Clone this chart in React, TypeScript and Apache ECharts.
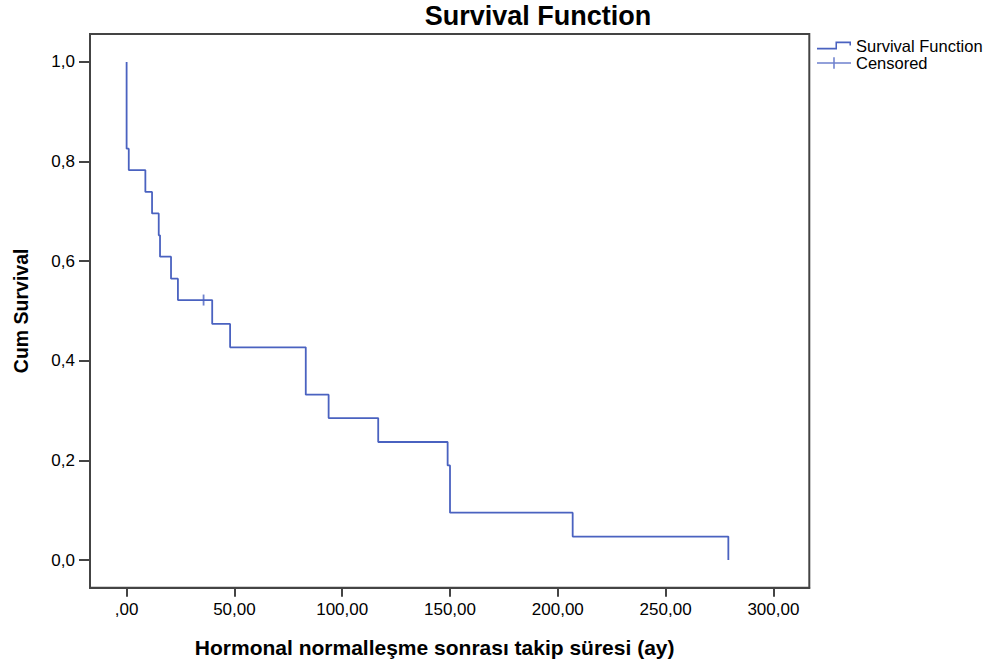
import React, { useEffect, useRef } from "react";
import * as echarts from "echarts";

// Kaplan-Meier step points: follow-up time (months) and cumulative survival
const eventTimes = [0, 0, 1.0, 8.7, 11.8, 14.9, 15.5, 20.6, 23.8, 39.7, 48.0, 83.1, 93.7, 116.7, 148.9, 150.0, 206.9, 279.1];
const survival = [1.0, 0.826, 0.783, 0.739, 0.696, 0.652, 0.609, 0.565, 0.522, 0.474, 0.427, 0.332, 0.285, 0.237, 0.19, 0.095, 0.047, 0.0];

// Censored observations
const censoredTimes = [35.7];
const censoredSurvival = [0.522];

// Axis ticks and labels
const xTicks = [0, 50, 100, 150, 200, 250, 300];
const xTickLabels = [",00", "50,00", "100,00", "150,00", "200,00", "250,00", "300,00"];
const yTicks = [0, 0.2, 0.4, 0.6, 0.8, 1.0];
const yTickLabels = ["0,0", "0,2", "0,4", "0,6", "0,8", "1,0"];

const xRange = [-16.98, 316.65];
const yRange = [-0.0556, 1.0562];

const FONT = "'Liberation Sans', Arial, Helvetica, sans-serif";
const BLUE = "#4a62c0";
const FRAME = "#444444";

const stepIcon =
  "path://M0,6.4 L19,6.4 L19,0 L35,0 L35,4 L33.4,4 L33.4,1.6 L20.6,1.6 L20.6,8 L0,8 Z";
const censorIcon =
  "path://M0,5.2 L16.7,5.2 L16.7,0 L18.3,0 L18.3,5.2 L35,5.2 L35,6.8 L18.3,6.8 L18.3,12 L16.7,12 L16.7,6.8 L0,6.8 Z";

export default function App() {
  const ref = useRef<HTMLDivElement>(null);

  useEffect(() => {
    if (!ref.current) return;
    const chart = echarts.init(ref.current, null, { renderer: "svg" });
    const curve = eventTimes.map((t, i) => [t, survival[i]]);
    const censored = censoredTimes.map((t, i) => [t, censoredSurvival[i]]);

    chart.setOption({
      animation: false,
      backgroundColor: "#ffffff",
      textStyle: { fontFamily: FONT },
      title: {
        text: "Survival Function",
        left: 533,
        top: -3,
        textAlign: "center",
        textStyle: { fontFamily: FONT, fontSize: 27, fontWeight: "bold", color: "#000" },
      },
      legend: {
        orient: "vertical",
        left: 812,
        top: 32,
        itemWidth: 34,
        itemHeight: 12,
        itemGap: 0.5,
        textStyle: { fontFamily: FONT, fontSize: 16.5, color: "#000" },
        data: [
          { name: "Survival Function", icon: stepIcon },
          { name: "Censored", icon: censorIcon },
        ],
      },
      grid: {
        left: 90,
        top: 34,
        right: 192.7,
        bottom: 76.3,
        show: true,
        borderColor: FRAME,
        borderWidth: 2,
        backgroundColor: "transparent",
      },
      xAxis: {
        type: "value",
        min: xRange[0],
        max: xRange[1],
        name: "Hormonal normalleşme sonrası takip süresi (ay)",
        nameLocation: "middle",
        nameGap: 49,
        nameTextStyle: {
          fontFamily: FONT,
          fontSize: 21,
          fontWeight: "bold",
          color: "#000",
          padding: [0, 30, 0, 0],
        },
        axisLine: { show: true, onZero: false, lineStyle: { color: FRAME, width: 2 } },
        axisTick: {
          show: true,
          length: 9,
          customValues: xTicks,
          lineStyle: { color: FRAME, width: 2 },
        },
        axisLabel: {
          customValues: xTicks,
          margin: 13,
          fontFamily: FONT,
          fontSize: 17,
          color: "#000",
          formatter: (v: number) => {
            const i = xTicks.indexOf(v);
            return i >= 0 ? xTickLabels[i] : "";
          },
        },
        splitLine: { show: false },
      },
      yAxis: {
        type: "value",
        min: yRange[0],
        max: yRange[1],
        name: "Cum Survival",
        nameLocation: "middle",
        nameGap: 59,
        nameRotate: 90,
        nameTextStyle: { fontFamily: FONT, fontSize: 19.5, fontWeight: "bold", color: "#000" },
        axisLine: { show: true, onZero: false, lineStyle: { color: FRAME, width: 2 } },
        axisTick: {
          show: true,
          length: 11,
          customValues: yTicks,
          lineStyle: { color: FRAME, width: 2 },
        },
        axisLabel: {
          customValues: yTicks,
          margin: 15,
          fontFamily: FONT,
          fontSize: 17,
          color: "#000",
          formatter: (v: number) => {
            const i = yTicks.findIndex((t) => Math.abs(t - v) < 1e-9);
            return i >= 0 ? yTickLabels[i] : "";
          },
        },
        splitLine: { show: false },
      },
      series: [
        {
          name: "Survival Function",
          type: "line",
          step: "end",
          data: curve,
          color: BLUE,
          showSymbol: false,
          symbol: "none",
          lineStyle: { color: BLUE, width: 1.8 },
          itemStyle: { color: BLUE },
          z: 3,
        },
        {
          name: "Censored",
          type: "scatter",
          data: censored,
          color: BLUE,
          symbol: "rect",
          symbolSize: [1.8, 11],
          itemStyle: { color: BLUE },
          z: 4,
        },
      ],
    });

    return () => chart.dispose();
  }, []);

  return (
    <div
      ref={ref}
      style={{ position: "fixed", left: 0, top: 0, width: 1002, height: 664, background: "#fff" }}
    />
  );
}
